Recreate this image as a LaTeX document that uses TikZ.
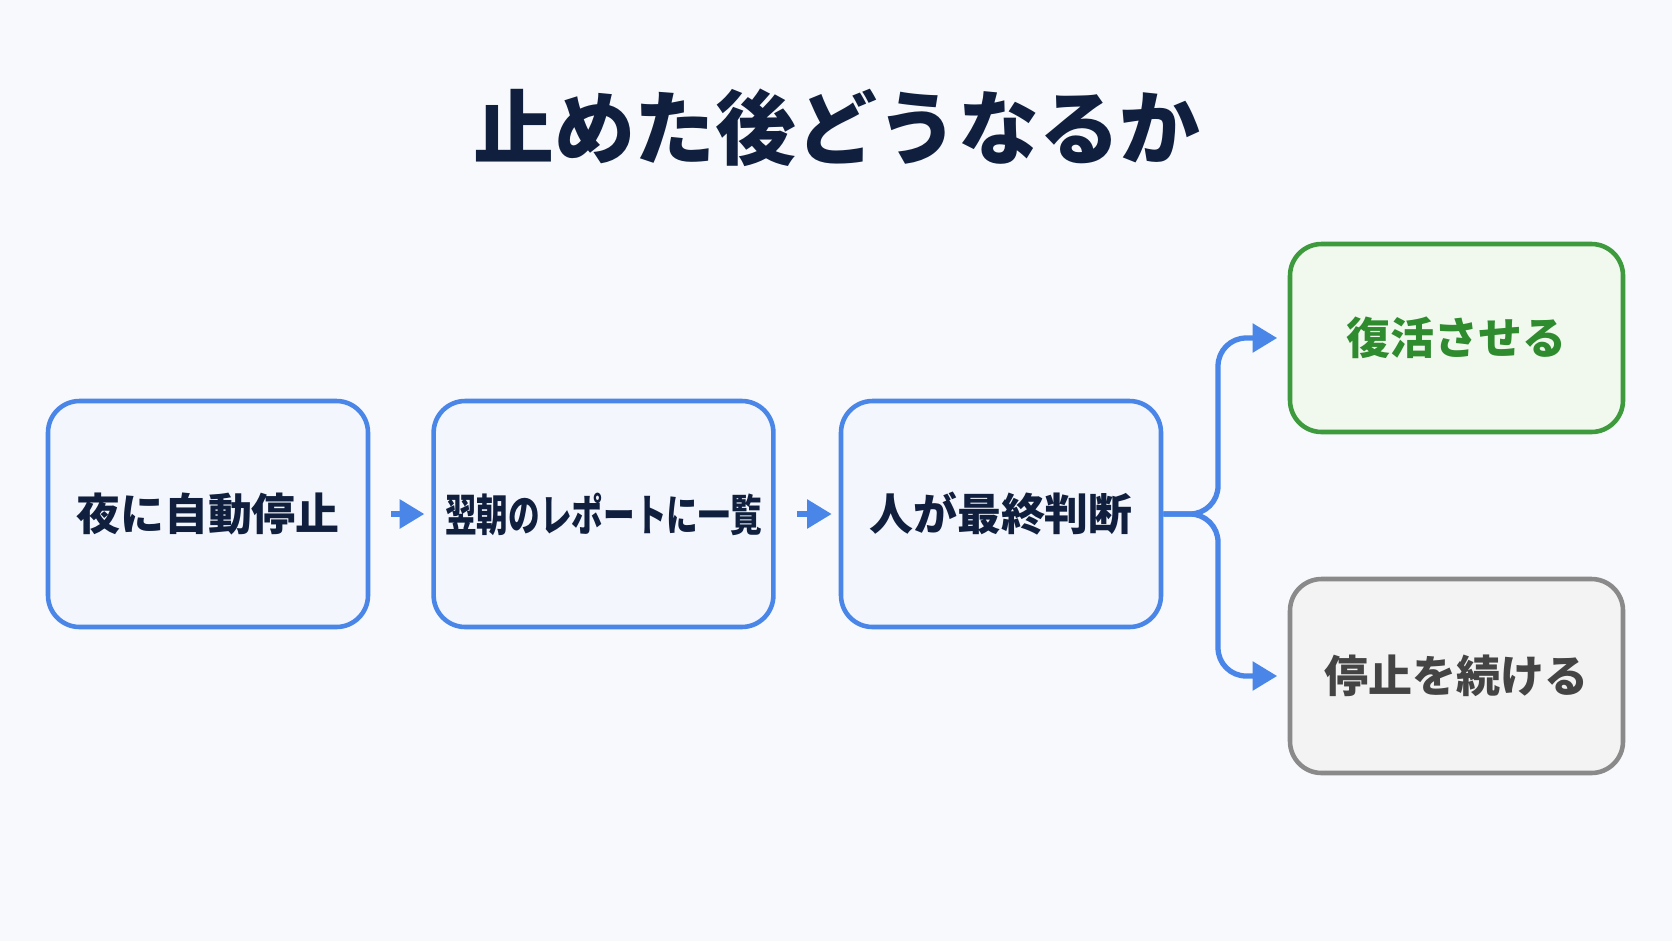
\documentclass[tikz,border=0pt]{standalone}
\usepackage{fontspec}
\setmainfont{Noto Sans CJK JP}
\usetikzlibrary{positioning,arrows.meta}
\definecolor{bgcol}{HTML}{F7F9FC}
\definecolor{titlecol}{HTML}{0F1F3D}
\definecolor{bluecol}{HTML}{4A86E8}
\definecolor{bluefill}{HTML}{F3F6FC}
\definecolor{greencol}{HTML}{3D9A3D}
\definecolor{greenfill}{HTML}{F1F8EE}
\definecolor{greentext}{HTML}{2E8B2E}
\definecolor{graycol}{HTML}{8A8A8A}
\definecolor{grayfill}{HTML}{F3F3F3}
\definecolor{graytext}{HTML}{444444}
\tikzset{
  stage/.style={draw=bluecol, fill=bluefill, line width=1.3pt, rounded corners=9pt,
    minimum width=3.2cm, minimum height=2.26cm, font=\fontsize{12.5}{14}\selectfont\bfseries, text=titlecol},
  flow/.style={draw=bluecol, line width=1.5pt, -{Triangle[length=7pt,width=8pt]}},
}
\begin{document}
\begin{tikzpicture}[x=1cm,y=1cm]
    \fill[bgcol] (0,0) rectangle (16.72,-9.41);
    \useasboundingbox (0,0) rectangle (16.72,-9.41);

    \node[font=\fontsize{23}{26}\selectfont\bfseries, text=titlecol] (title) at (8.37,-1.28) {止めた後どうなるか};

    \node[stage] (night) at (2.08,-5.14) {夜に自動停止};
    \node[stage, minimum width=3.27cm] (report) at (6.035,-5.14) {\scalebox{0.72}[1]{翌朝のレポートに一覧}};
    \node[stage] (judge) at (10.01,-5.14) {人が最終判断};
    \node[stage, draw=greencol, fill=greenfill, text=greentext, minimum width=3.33cm, minimum height=1.88cm] (revive) at (14.565,-3.38) {復活させる};
    \node[stage, draw=graycol, fill=grayfill, text=graytext, minimum width=3.33cm, minimum height=1.94cm] (keep) at (14.565,-6.76) {停止を続ける};

    \draw[flow] ([xshift=6pt]night.east) -- ([xshift=-2pt]report.west);
    \draw[flow] ([xshift=6pt]report.east) -- ([xshift=-2pt]judge.west);
    \coordinate (fork) at (12.18,-5.14);
    \draw[flow, rounded corners=8pt] (judge.east) -- (fork) |- ([xshift=-3pt]revive.west);
    \draw[flow, rounded corners=8pt] (judge.east) -- (fork) |- ([xshift=-3pt]keep.west);
\end{tikzpicture}
\end{document}
